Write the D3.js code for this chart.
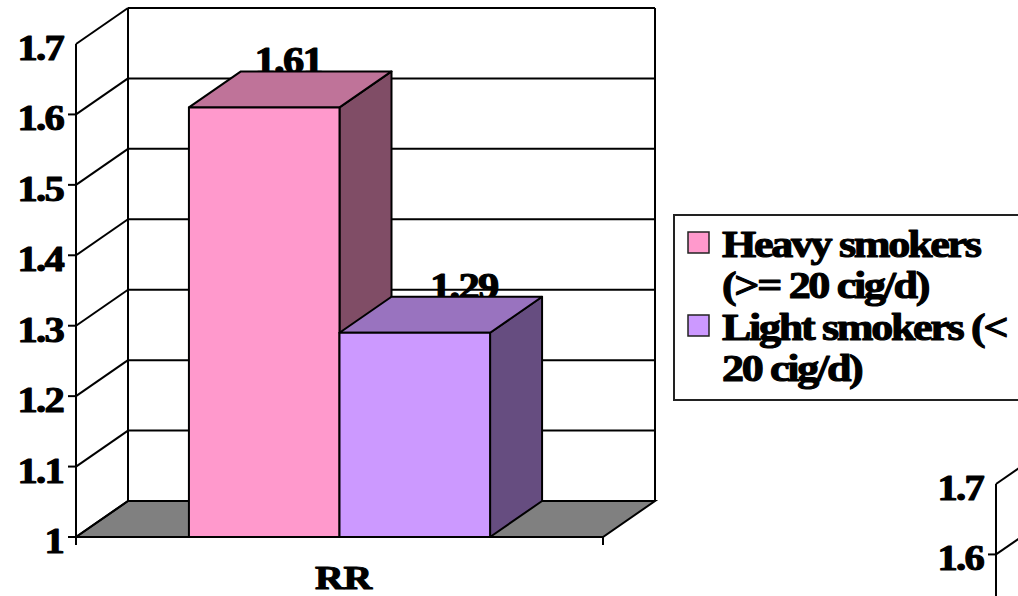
<!DOCTYPE html>
<html>
<head>
<meta charset="utf-8">
<script src="https://cdn.jsdelivr.net/npm/d3@7/dist/d3.min.js"></script>
<style>
  html, body { margin: 0; padding: 0; background: #fff; overflow: hidden; }
  svg { display: block; }
  text { font-family: "Liberation Serif", "Times New Roman", serif; font-weight: bold; fill: #000;
         stroke: #000; stroke-width: 1.1px; stroke-linejoin: round; }
</style>
</head>
<body>
<svg id="chart" width="1018" height="596"></svg>
<script>
// Relative risk by smoking intensity
const categories = ["RR"];
const seriesNames = ["Heavy smokers (>= 20 cig/d)", "Light smokers (< 20 cig/d)"];
const legendLines = [["Heavy smokers", "(>= 20 cig/d)"], ["Light smokers (<", "20 cig/d)"]];
const seriesValues = [1.61, 1.29];
const tickValues = [1, 1.1, 1.2, 1.3, 1.4, 1.5, 1.6, 1.7];
const tickLabels = ["1", "1.1", "1.2", "1.3", "1.4", "1.5", "1.6", "1.7"];

const frontColors = ["#FF99CC", "#CC99FF"];
const topColors = ["#BF7399", "#9973BF"];
const sideColors = ["#804D66", "#664D80"];

const W = 1018, H = 596;
const svg = d3.select("#chart");

// Depth of the 3-D box (back plane offset from the front plane)
const DX = 52, DY = -36;

// wide, tightly set bold serif text
function label(g, x, y, str, size, spacing, sx, anchor) {
  return g.append("text")
    .attr("transform", `translate(${x},${y}) scale(${sx},1)`)
    .attr("text-anchor", anchor)
    .attr("font-size", size)
    .attr("letter-spacing", spacing)
    .text(str);
}

// full = false draws only the frame and value axis (used for the neighbouring chart)
function drawChart(g, full, offY) {
  const y = d3.scaleLinear().domain([1, 1.7]).range([537, 44]);
  const x0 = d3.scaleBand().domain(categories).range([76, 603]);
  // gap width 150% of a bar, split evenly on both sides
  const barW = x0.bandwidth() / (seriesNames.length + 1.5);
  const x1 = d3.scaleBand().domain(seriesNames)
    .range([barW * 0.75, barW * 0.75 + barW * seriesNames.length]);

  const left = x0.range()[0], right = x0.range()[1];
  const base = y(1), top = y(1.7);
  const line = (ax, ay, bx, by, w) => g.append("line")
    .attr("x1", ax).attr("y1", ay).attr("x2", bx).attr("y2", by)
    .attr("stroke", "#000").attr("stroke-width", w || 2);

  // floor
  g.append("polygon")
    .attr("points", [[left, base], [right, base], [right + DX, base + DY], [left + DX, base + DY]].join(" "))
    .attr("fill", "#808080").attr("stroke", "#000").attr("stroke-width", 2);

  // back wall frame and gridlines, side wall diagonals
  line(left + DX, top + DY, left + DX, base + DY);
  line(right + DX, top + DY, right + DX, base + DY);
  tickValues.forEach(v => {
    if (v > 1) line(left + DX, y(v) + DY, right + DX, y(v) + DY);
    line(left, y(v), left + DX, y(v) + DY);
  });

  // value axis
  line(left, top, left, base + 8);
  tickValues.forEach((v, i) => {
    if (v < 1.7) line(left - 8, y(v), left, y(v));
    if (y(v) + 16 + offY > H) return;
    label(g, left - 13, y(v) + 16, tickLabels[i], 35, -1.5, 1.16, "end");
  });

  line(right, base, right, base + 8);
  if (!full) { line(left, base, right, base); return; }

  // category label
  label(g, x0("RR") + x0.bandwidth() / 2 + 4, 589, categories[0], 33, 0, 1.2, "middle");

  // value labels (partly tucked behind the bar tops)
  const labelShift = [24, 49];
  seriesNames.forEach((s, i) => {
    const bx = x0("RR") + x1(s);
    label(g, bx + labelShift[i] + x1.bandwidth() / 2, y(seriesValues[i]) + DY + 2,
      d3.format(".2f")(seriesValues[i]), 37, -1.5, 1.15, "middle");
  });

  // bars: right side face, top face, front face
  seriesNames.forEach((s, i) => {
    const bx = x0("RR") + x1(s), bw = x1.bandwidth();
    const yt = y(seriesValues[i]);
    const bar = g.append("g").attr("stroke", "#000").attr("stroke-width", 2).attr("stroke-linejoin", "round");
    bar.append("polygon")
      .attr("points", [[bx + bw, base], [bx + bw + DX, base + DY], [bx + bw + DX, yt + DY], [bx + bw, yt]].join(" "))
      .attr("fill", sideColors[i]);
    bar.append("polygon")
      .attr("points", [[bx, yt], [bx + bw, yt], [bx + bw + DX, yt + DY], [bx + DX, yt + DY]].join(" "))
      .attr("fill", topColors[i]);
    bar.append("rect")
      .attr("x", bx).attr("y", yt).attr("width", bw).attr("height", base - yt)
      .attr("fill", frontColors[i]);
  });

  // front edge of the floor drawn over the bar bottoms
  line(left, base, right, base);

  // legend
  const lg = g.append("g");
  lg.append("rect")
    .attr("x", 674).attr("y", 215).attr("width", 400).attr("height", 185)
    .attr("fill", "#fff").attr("stroke", "#222").attr("stroke-width", 2);
  seriesNames.forEach((s, i) => {
    const oy = 232 + i * 83;
    lg.append("rect")
      .attr("x", 688).attr("y", oy).attr("width", 21).attr("height", 21)
      .attr("fill", frontColors[i]).attr("stroke", "#222").attr("stroke-width", 1.5);
    legendLines[i].forEach((t, j) => {
      label(lg, 722, oy + 25 + j * 41, t, 38, -2, 1.16, "start");
    });
  });
}

// main chart, plus the neighbouring chart's axis peeking in at the lower right
drawChart(svg.append("g"), true, 0);
drawChart(svg.append("g").attr("transform", "translate(920,440)"), false, 440);
</script>
</body>
</html>
